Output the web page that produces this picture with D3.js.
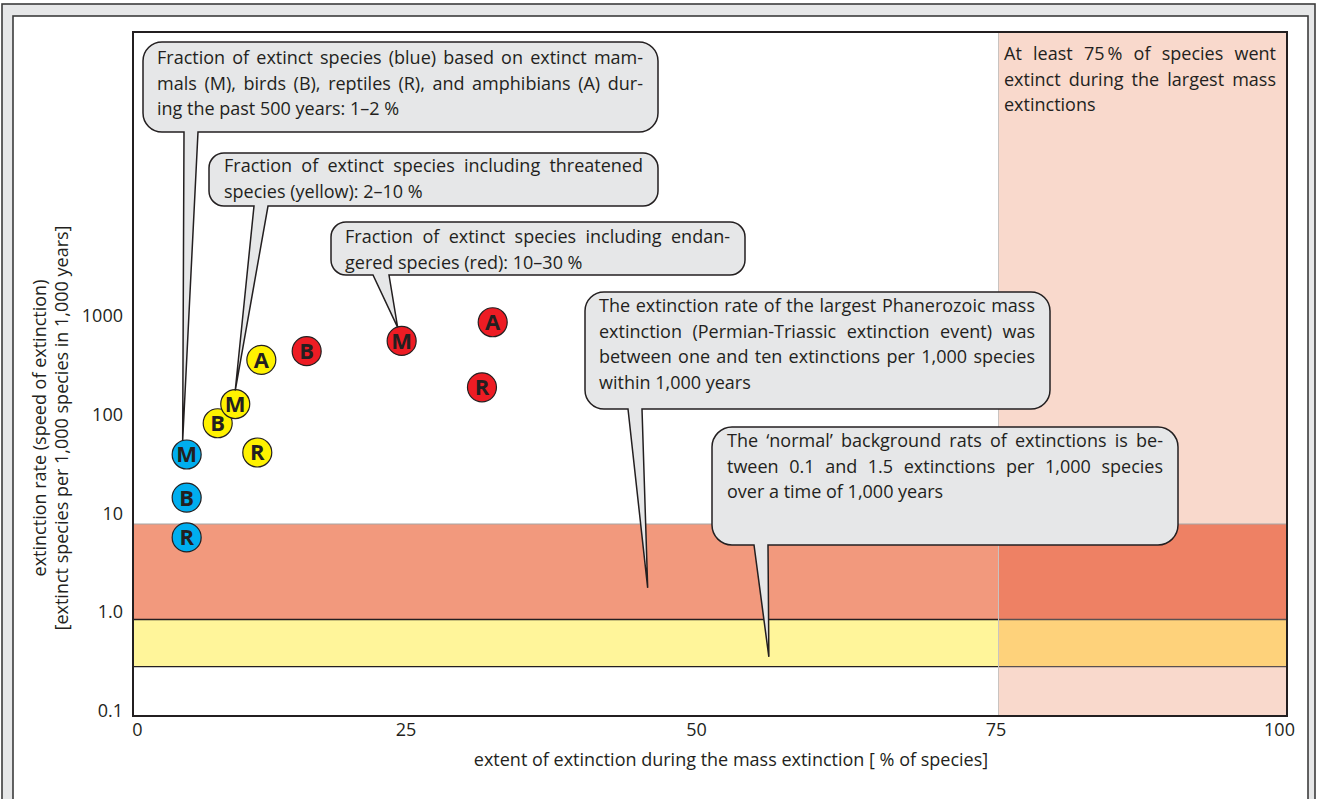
<!DOCTYPE html>
<html>
<head>
<meta charset="utf-8">
<script src="https://cdn.jsdelivr.net/npm/d3@7"></script>
<style>
  html, body { margin: 0; padding: 0; background: #ffffff; }
  svg { display: block; }
  text { font-family: "Open Sans", "Lato", "DejaVu Sans", sans-serif; fill: #231f20; }
</style>
</head>
<body>
<svg id="chart" width="1317" height="799"></svg>
<script>
// ---------------- DATA ----------------
const pointGroup  = ["extinct", "extinct", "extinct", "threatened", "threatened", "threatened", "threatened", "endangered", "endangered", "endangered", "endangered"];
const pointLetter = ["M", "B", "R", "B", "M", "A", "R", "B", "M", "A", "R"];
const pointExtent = [4.65, 4.65, 4.65, 7.34, 8.86, 11.12, 10.77, 15.05, 23.28, 31.17, 30.24];   // % of species
const pointRate   = [39.4, 14.4, 5.69, 81.7, 128, 359, 41.3, 440, 559, 864, 189];             // extinctions / 1,000 species / 1,000 yr

const bandNames = ["Permian-Triassic mass extinction", "normal background rate"];
const bandLow   = [0.837, 0.279];
const bandHigh  = [7.78, 0.837];
const massExtinctionFrom = 75;   // % of species
const massExtinctionTo   = 100;

const xTickValues = [0, 25, 50, 75, 100];
const xTickLabels = ["0", "25", "50", "75", "100"];
const yTickValues = [0.1, 1, 10, 100, 1000];
const yTickLabels = ["0.1", "1.0", "10", "100", "1000"];

const xTitle  = "extent of extinction during the mass extinction [ % of species]";
const yTitle1 = "extinction rate (speed of extinction)";
const yTitle2 = "[extinct species per 1,000 species in 1,000 years]";

const calloutTexts = [
  ["Fraction of extinct species (blue) based on extinct mam-",
   "mals (M), birds (B), reptiles (R), and amphibians (A) dur-",
   "ing the past 500 years: 1\u20132 %"],
  ["Fraction of extinct species including threatened",
   "species (yellow): 2\u201310 %"],
  ["Fraction of extinct species including endan-",
   "gered species (red): 10\u201330 %"],
  ["The extinction rate of the largest Phanerozoic mass",
   "extinction (Permian-Triassic extinction event) was",
   "between one and ten extinctions per 1,000 species",
   "within 1,000 years"],
  ["The \u2018normal\u2019 background rats of extinctions is be-",
   "tween 0.1 and 1.5 extinctions per 1,000 species",
   "over a time of 1,000 years"]
];
// callout pointers: either a point index, or a data location [extent, rate]
const calloutPointIndex = [0, 4, 8, null, null];
const calloutPointData  = [null, null, null, [44.6, 1.75], [55.1, 0.35]];

const massText = ["At least 75\u2009% of species went",
                  "extinct during the largest mass",
                  "extinctions"];

// ---------------- STYLE / LAYOUT ----------------
const groupColor = { extinct: "#00aeef", threatened: "#fff200", endangered: "#ed1c24" };
const bandColorLeft  = ["#f2997d", "#fff59a"];
const bandColorRight = ["#ee8164", "#fed27b"];
const massColor = "#f9d9cc";
const calloutFill = "#e6e7e8";
const ink = "#231f20";
const FS = "18px";
const LH = 25.5;

// box layout for callouts (pixel layout of annotations)
const calloutBox = [
  { x0: 143, y0: 42,  x1: 658,  y1: 132, r: 19, tb: [184, 198], tx: 157, tr: 643,  ty0: 64,  tipDx: -4 },
  { x0: 209, y0: 153, x1: 658,  y1: 206, r: 15, tb: [254, 268], tx: 224, tr: 643,  ty0: 172, tipDx: 0 },
  { x0: 331, y0: 222, x1: 745,  y1: 275, r: 15, tb: [373, 389], tx: 345, tr: 730,  ty0: 243, tipDx: -4 },
  { x0: 585, y0: 292, x1: 1050, y1: 409, r: 19, tb: [628, 642], tx: 599, tr: 1035, ty0: 312, tipDx: 0 },
  { x0: 712, y0: 427, x1: 1178, y1: 545, r: 20, tb: [754, 768], tx: 727, tr: 1163, ty0: 447, tipDx: 0 }
];

const plot = { left: 133, right: 1287, top: 32, bottom: 716 };
const R = 14.5;

const svg = d3.select("#chart");

// ---------------- FRAME ----------------
svg.append("rect").attr("x", 2).attr("y", 4).attr("width", 1313).attr("height", 820)
  .attr("fill", "#e6e7e8").attr("stroke", "#3c3c3c").attr("stroke-width", 1.6);
svg.append("rect").attr("x", 13).attr("y", 16).attr("width", 1295).attr("height", 820)
  .attr("fill", "#ffffff").attr("stroke", "#3c3c3c").attr("stroke-width", 1.6);

// ---------------- SCALES ----------------
const x = d3.scaleLinear().domain([0, 100]).range([plot.left, plot.right]);
const y = d3.scaleLog().domain([0.0879, 7.58e5]).range([plot.bottom, plot.top]);

const g = svg.append("g");

// mass-extinction region
g.append("rect")
  .attr("x", x(massExtinctionFrom)).attr("y", plot.top)
  .attr("width", x(massExtinctionTo) - x(massExtinctionFrom)).attr("height", plot.bottom - plot.top)
  .attr("fill", massColor);

// bands (left and right parts)
bandNames.forEach((name, i) => {
  g.append("rect")
    .attr("x", x(0)).attr("y", y(bandHigh[i]))
    .attr("width", x(massExtinctionFrom) - x(0)).attr("height", y(bandLow[i]) - y(bandHigh[i]))
    .attr("fill", bandColorLeft[i]);
  g.append("rect")
    .attr("x", x(massExtinctionFrom)).attr("y", y(bandHigh[i]))
    .attr("width", x(massExtinctionTo) - x(massExtinctionFrom)).attr("height", y(bandLow[i]) - y(bandHigh[i]))
    .attr("fill", bandColorRight[i]);
});
// band edge lines
g.append("line").attr("x1", x(0)).attr("x2", x(100)).attr("y1", y(bandHigh[0])).attr("y2", y(bandHigh[0]))
  .attr("stroke", "#a6a6a6").attr("stroke-width", 1.2);
[bandLow[0], bandLow[1]].forEach(v => {
  g.append("line").attr("x1", x(0)).attr("x2", x(massExtinctionFrom)).attr("y1", y(v)).attr("y2", y(v))
    .attr("stroke", ink).attr("stroke-width", 1.3);
  g.append("line").attr("x1", x(massExtinctionFrom)).attr("x2", x(100)).attr("y1", y(v)).attr("y2", y(v))
    .attr("stroke", "#5a5050").attr("stroke-width", 1.3);
});
// divider at 75 %
g.append("line").attr("x1", x(massExtinctionFrom)).attr("x2", x(massExtinctionFrom))
  .attr("y1", plot.top).attr("y2", plot.bottom)
  .attr("stroke", "#c9c3c0").attr("stroke-width", 1);

// ---------------- POINTS ----------------
const pts = pointLetter.map((l, i) => ({ l, g: pointGroup[i], x: pointExtent[i], r: pointRate[i] }));
const pg = g.selectAll("g.pt").data(pts).join("g").attr("class", "pt")
  .attr("transform", d => `translate(${x(d.x)},${y(d.r)})`);
pg.append("circle").attr("r", R).attr("fill", d => groupColor[d.g])
  .attr("stroke", ink).attr("stroke-width", 1.2);
pg.append("text").text(d => d.l)
  .attr("text-anchor", "middle").attr("dy", "0.36em")
  .style("font-size", "22px").style("font-weight", "700")
  .style("font-family", "'Open Sans', 'DejaVu Sans', sans-serif")
  .attr("fill", "#000");

// ---------------- TEXT HELPERS ----------------
function justifyLine(sel, left, right, justify) {
  if (!justify) return;
  const node = sel.node();
  const nat = node.getComputedTextLength();
  const target = right - left;
  const spaces = (sel.text().match(/ /g) || []).length;
  const extra = target - nat;
  if (extra >= 0 && spaces > 0) {
    sel.style("word-spacing", (extra / spaces) + "px");
  } else {
    sel.attr("textLength", target).attr("lengthAdjust", "spacing");
  }
}

// ---------------- CALLOUTS ----------------
function calloutPath(b, tx, ty) {
  const r = b.r;
  return `M${b.x0 + r},${b.y0} H${b.x1 - r} A${r},${r} 0 0 1 ${b.x1},${b.y0 + r} V${b.y1 - r} ` +
         `A${r},${r} 0 0 1 ${b.x1 - r},${b.y1} H${b.tb[1]} L${tx},${ty} L${b.tb[0]},${b.y1} ` +
         `H${b.x0 + r} A${r},${r} 0 0 1 ${b.x0},${b.y1 - r} V${b.y0 + r} A${r},${r} 0 0 1 ${b.x0 + r},${b.y0} Z`;
}

const cg = svg.append("g");
calloutTexts.forEach((lines, i) => {
  const b = calloutBox[i];
  let tipX, tipY;
  if (calloutPointIndex[i] !== null) {
    const p = pts[calloutPointIndex[i]];
    tipX = x(p.x) + b.tipDx; tipY = y(p.r) - R + 1;
  } else {
    const d = calloutPointData[i];
    tipX = x(d[0]); tipY = y(d[1]);
  }
  cg.append("path").attr("d", calloutPath(b, tipX, tipY))
    .attr("fill", calloutFill).attr("stroke", ink).attr("stroke-width", 1.5)
    .attr("stroke-linejoin", "miter");
  lines.forEach((t, j) => {
    const tt = cg.append("text").attr("x", b.tx).attr("y", b.ty0 + j * LH)
      .style("font-size", FS).text(t);
    justifyLine(tt, b.tx, b.tr, j < lines.length - 1);
  });
});

// mass extinction text
massText.forEach((t, j) => {
  const tt = svg.append("text").attr("x", 1004).attr("y", 60 + j * LH)
    .style("font-size", FS).text(t);
  justifyLine(tt, 1004, 1276, j < massText.length - 1);
});

// ---------------- PLOT FRAME ----------------
svg.append("rect").attr("x", plot.left).attr("y", plot.top)
  .attr("width", plot.right - plot.left).attr("height", plot.bottom - plot.top)
  .attr("fill", "none").attr("stroke", ink).attr("stroke-width", 2);

// ---------------- AXES ----------------
const xNudge = [4, -16, -14, -3, -8];
const xAxis = d3.axisBottom(x).tickValues(xTickValues).tickSize(0).tickPadding(0)
  .tickFormat((d, i) => xTickLabels[i]);
const xg = svg.append("g").attr("transform", `translate(0,${plot.bottom})`).call(xAxis);
xg.select(".domain").remove();
xg.selectAll(".tick text")
  .attr("dx", (d, i) => xNudge[i]).attr("y", 7)
  .style("font-size", "18px").style("font-family", "'Open Sans', sans-serif").attr("fill", ink);

const yAxis = d3.axisLeft(y).tickValues(yTickValues).tickSize(0).tickPadding(10)
  .tickFormat((d, i) => yTickLabels[i]);
const yg = svg.append("g").attr("transform", `translate(${plot.left},0)`).call(yAxis);
yg.select(".domain").remove();
yg.selectAll(".tick text")
  .style("font-size", "18px").style("font-family", "'Open Sans', sans-serif").attr("fill", ink);

svg.append("text").attr("x", (x(0) + x(100)) / 2 + 21).attr("y", 766)
  .attr("text-anchor", "middle").style("font-size", FS).text(xTitle);

svg.append("text").attr("transform", "translate(46,428) rotate(-90)")
  .attr("text-anchor", "middle").style("font-size", FS).text(yTitle1);
svg.append("text").attr("transform", "translate(68,428) rotate(-90)")
  .attr("text-anchor", "middle").style("font-size", FS).text(yTitle2);
</script>
</body>
</html>
